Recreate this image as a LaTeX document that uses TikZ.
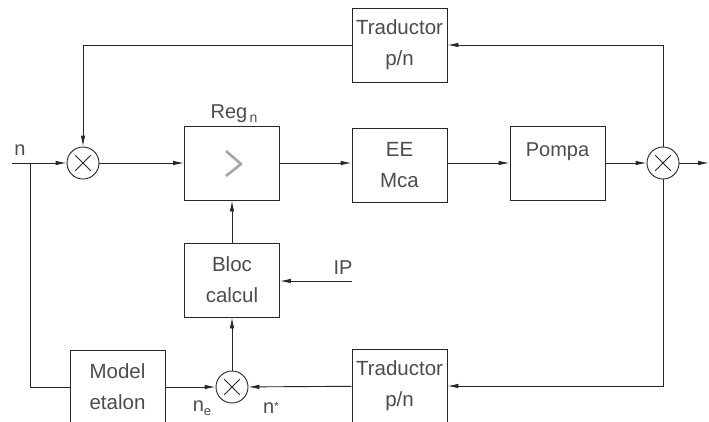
\documentclass[tikz,border=0pt]{standalone}
\usepackage{fontspec}
\setmainfont{Liberation Sans}
\usetikzlibrary{positioning}
\usetikzlibrary{arrows.meta}
\definecolor{lgray}{rgb}{0.3, 0.3, 0.3}
\tikzset{blk/.style = {draw, rectangle, minimum width = 95, minimum height = 74,
                       inner sep = 0, align = center, text = lgray,
                       font = \fontsize{20.5}{31}\selectfont}}
\tikzset{sum/.style = {draw, circle, minimum size = 32, inner sep = 0,
    path picture = {\draw ([shift={(45:11pt)}]path picture bounding box.center)
                       -- ([shift={(225:11pt)}]path picture bounding box.center);
                    \draw ([shift={(135:11pt)}]path picture bounding box.center)
                       -- ([shift={(-45:11pt)}]path picture bounding box.center);}}}
\tikzset{lbl/.style = {text = lgray, inner sep = 0,
                       font = \fontsize{20}{24}\selectfont}}
\tikzset{every picture/.style = {every path/.style = {line width = 0.9pt, black!85}},
         -Latex/.style = {-{Latex[length=11pt, width=4.5pt]}}}

\begin{document}
\begin{tikzpicture}[x=1pt, y=-1pt]
        \useasboundingbox[fill=white] (0,0) rectangle (709,421);
        % blocks
        \node[sum] (s1) at (83,163) {};
        \node[blk] (reg) at (232,163) {};
        \draw[black!35, line width=2.6pt, line join=round]
          ([shift={(-6,-12)}]reg.center) -- ([shift={(9,1)}]reg.center)
          -- ([shift={(-6,13)}]reg.center); % comparator sign
        \node[blk] (ee) at (399.5,165) {EE\\Mca};
        \node[blk] (pompa) at (557.5,163) {};
        \node[lbl] (lpompa) at (557.5,152) {Pompa};
        \node[sum] (s2) at (663,163) {};
        \node[blk] (trsus) at (399.5,45) {Traductor\\p/n};
        \node[blk] (bloc) at (232,280) {Bloc\\calcul};
        \node[sum] (s3) at (232,387) {};
        \node[blk] (model) at (117.5,387) {Model\\etalon};
        \node[blk] (trjos) at (399.5,386) {Traductor\\p/n};
        \coordinate (in) at (12,163);
        \coordinate (j) at (30,163);
        \coordinate (out) at (709,163);
        \coordinate (ip) at (352,281);
        % labels
        \node[lbl] (ln) at (20,150) {n};
        \node[lbl] (lreg) at (234,114) {Reg\raisebox{-4pt}{\fontsize{14}{14}\selectfont\,n}};
        \node[lbl] (lip) at (343,268) {IP};
        \node[lbl] (lne) at (202,408) {n\raisebox{-4pt}{\fontsize{13}{13}\selectfont e}};
        \node[lbl] (lns) at (271,408) {n\raisebox{3pt}{\fontsize{12}{12}\selectfont *}};
        \node[lbl] (lout) at (714,150) {n};
        % connectors
        \draw[-Latex] (in) -- (s1);
        \draw (j) |- (model);
        \draw[-Latex] (s1) -- (reg);
        \draw[-Latex] (reg) -- (reg -| ee.west);
        \draw[-Latex] (ee.east |- pompa) -- (pompa);
        \draw[-Latex] (pompa) -- (s2);
        \draw[-Latex] (s2) -- (out);
        \draw[-Latex] (s2) |- (trsus);
        \draw[-Latex] (trsus) -| (s1);
        \draw[-Latex] (s2) |- (trjos);
        \draw[-Latex] (trjos) -- (s3);
        \draw[-Latex] (model) -- (s3);
        \draw[-Latex] (s3) -- (bloc);
        \draw[-Latex] (bloc) -- (reg);
        \draw[-Latex] (ip) -- (ip -| bloc.east);
    \end{tikzpicture}
\end{document}
